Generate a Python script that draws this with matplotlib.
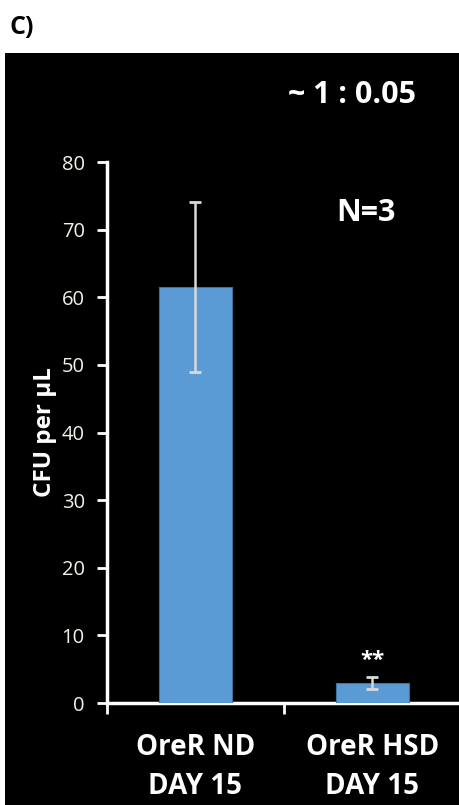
import matplotlib
matplotlib.use("Agg")
import matplotlib.pyplot as plt
from matplotlib.patches import Rectangle

categories = ["OreR ND\nDAY 15", "OreR HSD\nDAY 15"]
values = [61.5, 2.9]
errors = [12.6, 0.9]
yticks = [0, 10, 20, 30, 40, 50, 60, 70, 80]

plt.rcParams['font.family'] = ['Open Sans', 'DejaVu Sans']
plt.rcParams['font.weight'] = 'bold'

W, H = 460, 805
fig = plt.figure(figsize=(W / 100, H / 100), dpi=100)
fig.patch.set_facecolor('white')
fig.patches.append(Rectangle((5 / W, 0), 1 - 5 / W, 1 - 53 / H,
                             transform=fig.transFigure, facecolor='black',
                             edgecolor='none', zorder=-5))

ax = fig.add_axes([107 / W, 1 - 703 / H, (461 - 107) / W, (703 - 162) / H])
ax.set_facecolor('black')
ax.patch.set_alpha(0)

x = range(len(categories))
ax.bar(x, values, width=0.41, color='#5b9bd5', edgecolor='#41719c', linewidth=0.8,
       yerr=errors, error_kw=dict(ecolor='#d9d9d9', elinewidth=1.8, capsize=4.5, capthick=2),
       zorder=3)

ax.set_xlim(-0.5, 1.5)
ax.set_ylim(0, 80)
ax.set_yticks(yticks)
ax.tick_params(axis='y', colors='white', length=7, width=2, direction='out',
               labelsize=14.5, pad=9)
for lbl in ax.get_yticklabels():
    lbl.set_fontweight('normal')
    lbl.set_color('#f2f2ea')

ax.set_xticks([-0.5, 0.5, 1.5])
ax.set_xticklabels([])
ax.tick_params(axis='x', colors='white', length=8, width=2, direction='out')
for i, c in enumerate(categories):
    ax.text(i, -4.4, c, ha='center', va='top', color='white', fontsize=20,
            fontweight='bold', linespacing=1.45, transform=ax.transData, clip_on=False)

for s in ['top', 'right']:
    ax.spines[s].set_visible(False)
ax.spines['left'].set_color('white')
ax.spines['bottom'].set_color('white')
ax.spines['left'].set_linewidth(2.5)
ax.spines['bottom'].set_linewidth(2.5)

ax.set_ylabel('CFU per µL', color='white', fontsize=17.5, fontweight='bold', labelpad=3)

ax.text(1, values[1] + errors[1] + 2.5, '**', ha='center', va='center',
        color='white', fontsize=16, fontweight='bold')

fig.text(10 / W, 1 - 28 / H, 'C)', color='black', fontsize=18, fontweight='bold',
         ha='left', va='center')
fig.text(352 / W, 1 - 95 / H, '~ 1 : 0.05', color='white', fontsize=22,
         fontweight='bold', ha='center', va='center')
fig.text(366 / W, 1 - 213 / H, 'N=3', color='white', fontsize=22,
         fontweight='bold', ha='center', va='center')

fig.savefig('out.png', dpi=100, facecolor=fig.get_facecolor())
